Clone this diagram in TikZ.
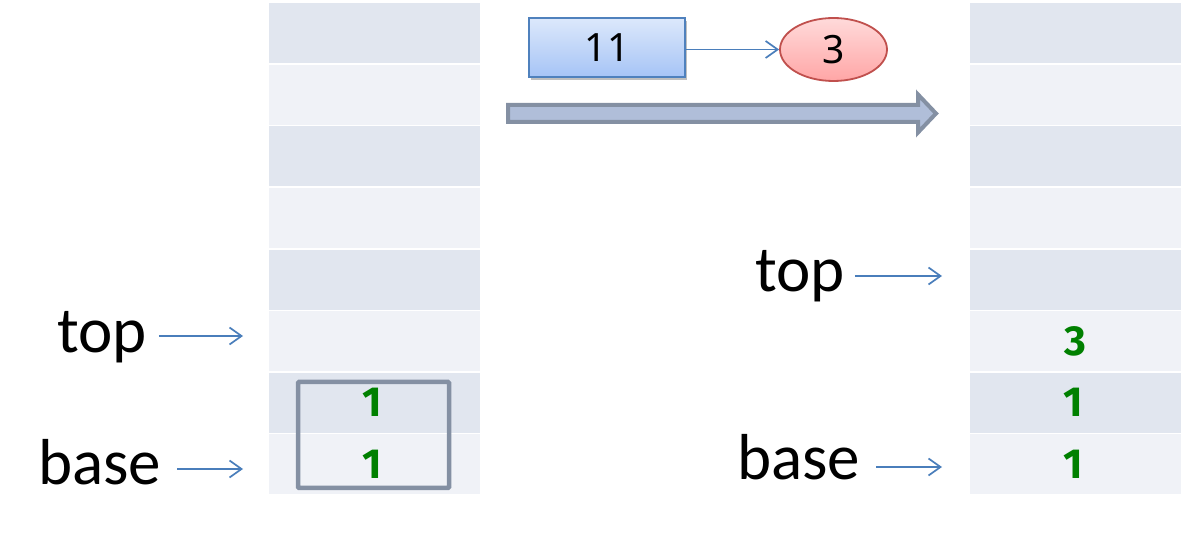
\documentclass[tikz,border=0pt]{standalone}
\usepackage{fontspec}
\setmainfont{Carlito}
\newfontfamily\digitfont{Noto Sans}
\newfontfamily\numfont{Fira Sans}
\usetikzlibrary{arrows.meta,shadows,shapes.geometric}
\definecolor{cellA}{HTML}{E1E6EF}
\definecolor{cellB}{HTML}{F0F2F7}
\definecolor{frameG}{HTML}{8490A3}
\definecolor{arrowF}{HTML}{B0BED9}
\definecolor{lineB}{HTML}{4A7EBB}
\definecolor{numG}{HTML}{008000}
\definecolor{boxTop}{HTML}{DCE8FB}
\definecolor{boxBot}{HTML}{A6C4F6}
\definecolor{boxLine}{HTML}{4F81BD}
\definecolor{ellTop}{HTML}{FFDADA}
\definecolor{ellBot}{HTML}{FFA6A6}
\definecolor{ellLine}{HTML}{C0504D}
\begin{document}
\begin{tikzpicture}[x=1pt,y=-1pt,
  cell/.style={anchor=north west, minimum width=211pt, minimum height=60pt, inner sep=0pt, draw=none},
  num/.style={text=numG, font=\numfont\bfseries\fontsize{42}{50}\selectfont, inner sep=0pt},
  lbl/.style={inner sep=0pt, font=\fontsize{65}{78}\selectfont},
  ptr/.style={draw=lineB, line width=1.7pt, -{Straight Barb[length=12pt,width=17pt]}},
  hl/.style={draw=frameG, line width=4.5pt, rounded corners=1pt, minimum width=151pt, minimum height=106pt, inner sep=0pt},
  valbox/.style={draw=boxLine, line width=1.8pt, top color=boxTop, bottom color=boxBot, minimum width=156pt, minimum height=59pt, inner sep=0pt, font=\digitfont\fontsize{39}{46}\selectfont, drop shadow={shadow xshift=2pt, shadow yshift=-3pt, opacity=0.25, fill=black}},
  valell/.style={ellipse, draw=ellLine, line width=1.8pt, top color=ellTop, bottom color=ellBot, minimum width=107pt, minimum height=63pt, inner sep=0pt, font=\digitfont\fontsize{39}{46}\selectfont},
  bigarrow/.style={draw=frameG, fill=arrowF, line width=4pt, line join=miter}
]
\useasboundingbox (0,0) rectangle (1184,534);

% stacks
\foreach \i/\c in {1/cellA,2/cellB,3/cellA,4/cellB,5/cellA,6/cellB,7/cellA,8/cellB}{
  \pgfmathsetmacro\yy{3+(\i-1)*61.6}
  \node[cell, fill=\c] (L\i) at (269,\yy) {};
  \node[cell, fill=\c] (R\i) at (970,\yy) {};
}

% left stack contents
\node[num] (l7n) at ([xshift=-2pt]L7) {1};
\node[num] (l8n) at ([xshift=-2pt]L8) {1};
\node[hl] (grp) at (373.5,435) {};

% right stack contents
\node[num] (r6n) at (R6) {3};
\node[num] (r7n) at ([xshift=-2pt]R7) {1};
\node[num] (r8n) at ([xshift=-2pt]R8) {1};

% labels left
\node[lbl, anchor=base west] (ltop) at (57,353) {top};
\node[lbl, anchor=base west] (lbase) at (38,485) {base};
\coordinate (ltopEnd) at (243,336);
\coordinate (lbaseEnd) at (243,469);
\draw[ptr] ([xshift=12pt]ltop.east |- ltopEnd) -- (ltopEnd);
\draw[ptr] ([xshift=16pt]lbase.east |- lbaseEnd) -- (lbaseEnd);

% labels right
\node[lbl, anchor=base west] (rtop) at (755,292) {top};
\node[lbl, anchor=base west] (rbase) at (737,480) {base};
\coordinate (rtopEnd) at (942,276);
\coordinate (rbaseEnd) at (942,467);
\draw[ptr] ([xshift=10pt]rtop.east |- rtopEnd) -- (rtopEnd);
\draw[ptr] ([xshift=16pt]rbase.east |- rbaseEnd) -- (rbaseEnd);

% push operation
\node[valbox] (v) at (607,47.5) {11};
\node[valell] (e) at (833.5,49.5) {3};
\draw[ptr] (v.east |- e) -- (e);

% big arrow
\draw[bigarrow] (508,105) -- (918,105) -- (918,94.5) -- (936,113.5) -- (918,132.5) -- (918,122) -- (508,122) -- cycle;
\end{tikzpicture}
\end{document}
